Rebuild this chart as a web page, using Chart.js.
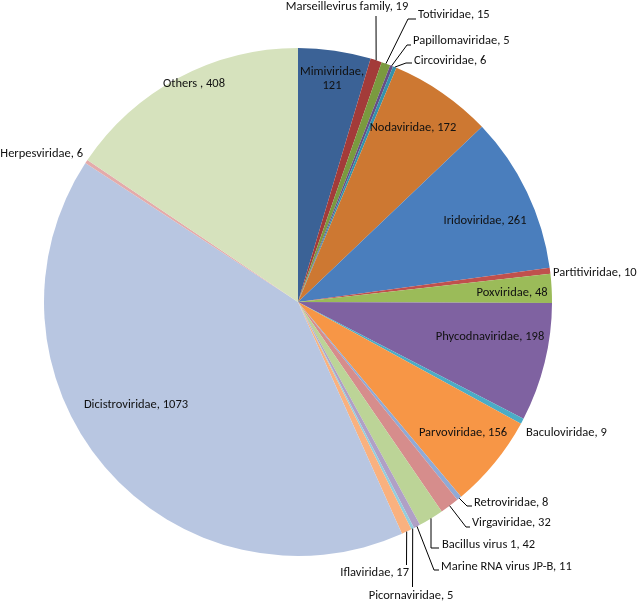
<!DOCTYPE html>
<html>
<head>
<meta charset="utf-8">
<script src="https://cdn.jsdelivr.net/npm/chart.js@4.4.0/dist/chart.umd.min.js"></script>
<style>
  html, body { margin: 0; padding: 0; background: #fff; }
  #wrap { width: 638px; height: 605px; }
</style>
</head>
<body>
<div id="wrap"><canvas id="pie" width="638" height="605"></canvas></div>
<script>
// ── Data ─────────────────────────────────────────────────────────────────
const families = [
  'Mimiviridae', 'Marseillevirus family', 'Totiviridae', 'Papillomaviridae',
  'Circoviridae', 'Nodaviridae', 'Iridoviridae', 'Partitiviridae', 'Poxviridae',
  'Phycodnaviridae', 'Baculoviridae', 'Parvoviridae', 'Retroviridae',
  'Virgaviridae', 'Bacillus virus 1', 'Marine RNA virus JP-B', 'Picornaviridae',
  'Iflaviridae', 'Dicistroviridae', 'Herpesviridae', 'Others '
];
const counts = [121, 19, 15, 5, 6, 172, 261, 10, 48, 198, 9, 156, 8, 32, 42, 11, 5, 17, 1073, 6, 408];

const colours = [
  '#3B6296', '#A33B39', '#7A9A3F', '#654E86', '#3592AB', '#CD7832',
  '#4A7EBD', '#C0504D', '#9BBB59', '#7F62A1', '#4BACC6', '#F79646',
  '#8FAAD6', '#D68D8C', '#BCD497', '#B0A0C6', '#93CDDD', '#F9B17F',
  '#B8C6E1', '#E4ABAA', '#D6E2BD'
];

// ── Label layout (offsets from the pie centre, px) ───────────────────────
// align: c = centred, l = starts at x, r = ends at x. lead = leader bend points.
const labelLayout = [
  { x: 34,   y: -223, align: 'c', split: true },
  { x: 49,   y: -295, align: 'c', lead: [[78, -286]] },
  { x: 120,  y: -287, align: 'l', lead: [[110, -283], [118, -283]] },
  { x: 115,  y: -261, align: 'l', lead: [[109, -257], [113, -257]] },
  { x: 116,  y: -241, align: 'l', lead: [[108, -239], [114, -239]] },
  { x: 115,  y: -174, align: 'c' },
  { x: 187,  y: -81,  align: 'c' },
  { x: 255,  y: -29,  align: 'l' },
  { x: 214,  y: -9,   align: 'c' },
  { x: 192,  y: 35,   align: 'c' },
  { x: 228,  y: 131,  align: 'l' },
  { x: 165,  y: 131,  align: 'c' },
  { x: 176,  y: 201,  align: 'l', lead: [[169, 204], [174, 204]] },
  { x: 174,  y: 221,  align: 'l', lead: [[168, 225], [172, 225]] },
  { x: 144,  y: 243,  align: 'l', lead: [[133, 246], [141, 246]] },
  { x: 143,  y: 265,  align: 'l', lead: [[136, 268], [141, 268]] },
  { x: 113,  y: 294,  align: 'c', lead: [[114.5, 285]] },
  { x: 111,  y: 271,  align: 'r', lead: [[108.5, 263]] },
  { x: -162, y: 103,  align: 'c' },
  { x: -215, y: -148, align: 'r' },
  { x: -104, y: -218, align: 'c' }
];

const labelFont = '12.5px Carlito, "Liberation Sans Narrow", "Liberation Sans", sans-serif';

// Draws the Excel-style data labels and leader lines
const sliceLabels = {
  id: 'sliceLabels',
  afterDatasetsDraw(chart) {
    const ctx  = chart.ctx;
    const arcs = chart.getDatasetMeta(0).data;
    ctx.save();
    ctx.font = labelFont;
    ctx.fillStyle = '#111';
    ctx.strokeStyle = '#000';
    ctx.lineWidth = 1;
    ctx.textBaseline = 'middle';

    arcs.forEach((arc, i) => {
      const p   = arc.getProps(['x', 'y', 'startAngle', 'endAngle', 'outerRadius'], true);
      const lay = labelLayout[i];
      const mid = (p.startAngle + p.endAngle) / 2;

      if (lay.lead) {
        ctx.beginPath();
        ctx.moveTo(p.x + Math.cos(mid) * p.outerRadius, p.y + Math.sin(mid) * p.outerRadius);
        lay.lead.forEach(([lx, ly]) => ctx.lineTo(p.x + lx, p.y + ly));
        ctx.stroke();
      }

      ctx.textAlign = lay.align === 'l' ? 'left' : lay.align === 'r' ? 'right' : 'center';
      const tx = p.x + lay.x, ty = p.y + lay.y;
      if (lay.split) {
        ctx.fillText(families[i] + ',', tx, ty - 7);
        ctx.fillText(String(counts[i]), tx, ty + 7);
      } else {
        ctx.fillText(`${families[i]}, ${counts[i]}`, tx, ty);
      }
    });
    ctx.restore();
  }
};

new Chart(document.getElementById('pie'), {
  type: 'pie',
  data: {
    labels: families,
    datasets: [{
      data: counts,
      backgroundColor: colours,
      borderWidth: 0
    }]
  },
  options: {
    responsive: false,
    animation: false,
    layout: { padding: { left: 44, right: 86, top: 48, bottom: 49 } },
    plugins: {
      legend: { display: false },
      tooltip: { enabled: false }
    }
  },
  plugins: [sliceLabels]
});
</script>
</body>
</html>
